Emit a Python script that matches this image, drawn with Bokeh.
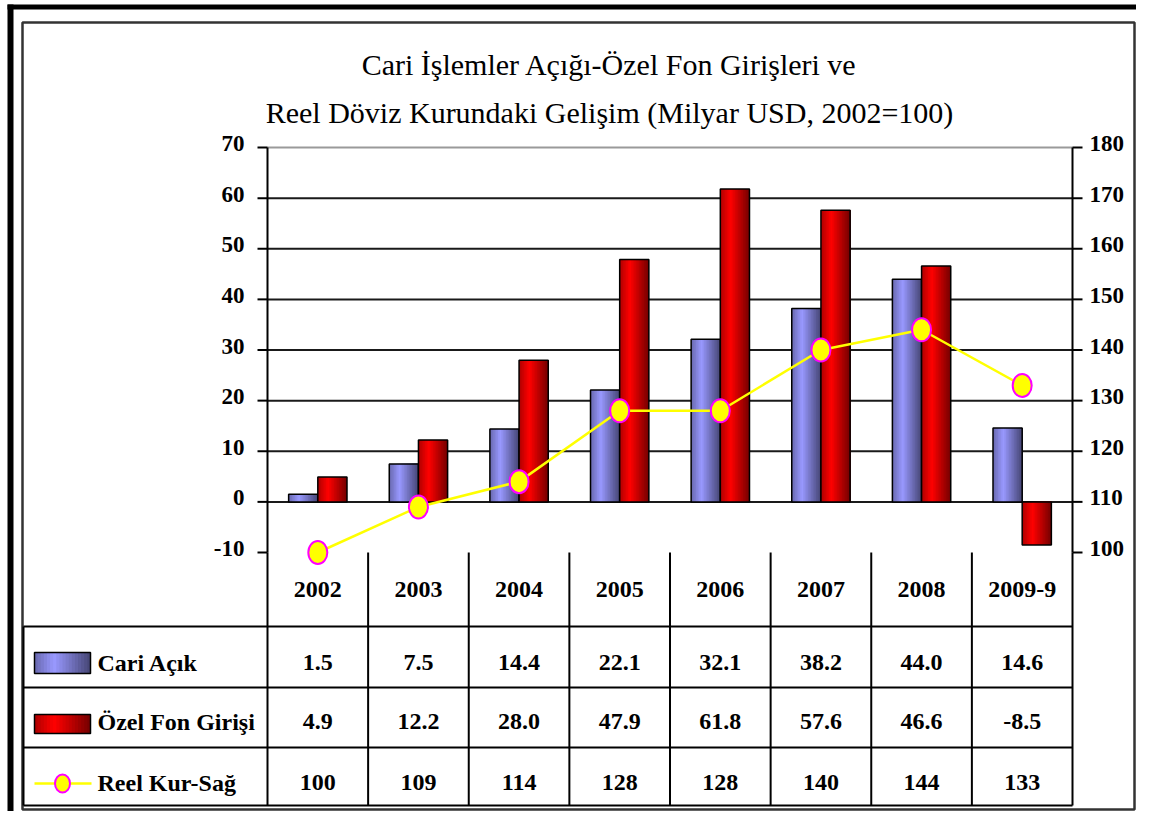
from bokeh.plotting import figure
from bokeh.models import Range1d
from bokeh.core.properties import value
from bokeh.embed import file_html
from bokeh.resources import INLINE

# ---------------- data ----------------
categories = ["2002", "2003", "2004", "2005", "2006", "2007", "2008", "2009-9"]
cari_acik = [1.5, 7.5, 14.4, 22.1, 32.1, 38.2, 44.0, 14.6]
ozel_fon = [4.9, 12.2, 28.0, 47.9, 61.8, 57.6, 46.6, -8.5]
reel_kur = [100, 109, 114, 128, 128, 140, 144, 133]
left_ticks = [-10, 0, 10, 20, 30, 40, 50, 60, 70]
right_ticks = [100, 110, 120, 130, 140, 150, 160, 170, 180]
series_names = ["Cari Açık", "Özel Fon Girişi", "Reel Kur-Sağ"]
title_lines = ["Cari İşlemler Açığı-Özel Fon Girişleri ve",
               "Reel Döviz Kurundaki Gelişim (Milyar USD, 2002=100)"]

# ---------------- layout (pixel geometry of the picture) ----------------
W, H = 1136, 811
OX, OY = 0, 0
PLOT_L, PLOT_R, PLOT_T, PLOT_B = 267, 1072, 147, 552
PPX = (PLOT_R - PLOT_L) / len(categories)
PPY = (PLOT_B - PLOT_T) / (left_ticks[-1] - left_ticks[0])
SHIFT = right_ticks[0] - left_ticks[0]


def dx(ix):
    return (ix - PLOT_L) / PPX


def dy(iy):
    return left_ticks[0] + (PLOT_B - iy) / PPY


FONT = value("Liberation Serif")

p = figure(width=W, height=H,
           x_range=Range1d(dx(OX), dx(OX + W)),
           y_range=Range1d(dy(OY + H), dy(OY)),
           output_backend="svg", toolbar_location=None,
           x_axis_type=None, y_axis_type=None, min_border=0)
p.extra_y_ranges = {"kur": Range1d(dy(OY + H) + SHIFT, dy(OY) + SHIFT)}
p.outline_line_color = None
p.background_fill_color = "white"
p.border_fill_color = "white"

# ---------------- frames ----------------
p.quad(left=dx(7), right=dx(13), top=dy(4), bottom=dy(811), fill_color="black", line_color=None)
p.quad(left=dx(7), right=dx(1136), top=dy(4), bottom=dy(9), fill_color="black", line_color=None)
p.quad(left=dx(22), right=dx(1134), top=dy(22), bottom=dy(809),
       fill_color=None, line_color="#333333", line_width=2.5)

# ---------------- title ----------------
p.text(x=[dx(609), dx(609)], y=[dy(64), dy(112)], text=title_lines,
       text_font=FONT, text_font_size="30px", text_align="center",
       text_baseline="middle", text_color="black")

# ---------------- grid, axes, ticks ----------------
n = len(categories)
for t in left_ticks[1:]:
    p.segment(x0=[0], y0=[t], x1=[n], y1=[t],
              line_color="#9a9a9a" if t == left_ticks[-1] else "#1a1a1a", line_width=2)
p.segment(x0=[dx(257)] * len(left_ticks), y0=left_ticks, x1=[0] * len(left_ticks), y1=left_ticks,
          line_color="black", line_width=2)
p.segment(x0=[n] * len(right_ticks), y0=right_ticks, x1=[dx(1082)] * len(right_ticks), y1=right_ticks,
          line_color="black", line_width=2, y_range_name="kur")
p.segment(x0=[0, n], y0=[left_ticks[0]] * 2, x1=[0, n], y1=[left_ticks[-1]] * 2,
          line_color="black", line_width=2)

p.text(x=[dx(244)] * len(left_ticks), y=left_ticks, text=[str(t) for t in left_ticks],
       text_font=FONT, text_font_style="bold", text_font_size="23px",
       text_align="right", text_baseline="middle", y_offset=-4)
p.text(x=[dx(1089)] * len(right_ticks), y=right_ticks, text=[str(t) for t in right_ticks],
       text_font=FONT, text_font_style="bold", text_font_size="23px",
       text_align="left", text_baseline="middle", y_offset=-4, y_range_name="kur")


# ---------------- bars with cylinder shading ----------------
def shade(base, t):
    if t < 0.35:
        f = 0.68 + 0.32 * t / 0.35
    else:
        f = 1.0 - 0.55 * (t - 0.35) / 0.65
    return "#%02x%02x%02x" % tuple(int(round(c * f)) for c in base)


BW = 0.29
NS = 18
BLUE = (153, 153, 255)
RED = (255, 0, 0)
series = [(cari_acik, -BW / 2, BLUE), (ozel_fon, BW / 2, RED)]
for vals, off, base in series:
    lefts = [i + 0.5 + off - BW / 2 for i in range(n)]
    rights = [i + 0.5 + off + BW / 2 for i in range(n)]
    for k in range(NS):
        t = (k + 0.5) / NS
        p.quad(left=[l + k * BW / NS for l in lefts], right=rights, top=vals, bottom=[0] * n,
               fill_color=shade(base, t), line_color=None)
    p.vbar(x=[i + 0.5 + off for i in range(n)], width=BW, top=vals, bottom=0,
           fill_color=None, line_color="black", line_width=1.5)

# ---------------- line series (right axis) ----------------
centers = [i + 0.5 for i in range(n)]
p.line(x=centers, y=reel_kur, y_range_name="kur", line_color="#ffff00", line_width=2.5)
p.ellipse(x=centers, y=reel_kur, width=19, height=23, width_units="screen", height_units="screen",
          y_range_name="kur", fill_color="#ffff00", line_color="#ff00ff", line_width=2)

# ---------------- data table ----------------
col_x = list(range(n + 1))
p.segment(x0=col_x, y0=[dy(552)] * len(col_x), x1=col_x, y1=[dy(805)] * len(col_x),
          line_color="black", line_width=2)
row_y = [dy(626), dy(687), dy(747), dy(805)]
p.segment(x0=[dx(23)] * 4, y0=row_y, x1=[n] * 4, y1=row_y, line_color="black", line_width=2)
p.segment(x0=[dx(23)], y0=[dy(626)], x1=[dx(23)], y1=[dy(805)], line_color="black", line_width=2)

p.text(x=centers, y=[dy(589)] * n, text=categories, text_font=FONT, text_font_style="bold",
       text_font_size="24px", text_align="center", text_baseline="middle")

row_centers = [dy(662), dy(721), dy(782)]
row_texts = [["%.1f" % v for v in cari_acik], ["%.1f" % v for v in ozel_fon], [str(v) for v in reel_kur]]
for rc, txts in zip(row_centers, row_texts):
    p.text(x=centers, y=[rc] * n, text=txts, text_font=FONT, text_font_style="bold",
           text_font_size="24px", text_align="center", text_baseline="middle")

# legend keys
p.text(x=[dx(97)] * 3, y=row_centers, text=series_names, text_font=FONT, text_font_style="bold",
       text_font_size="24px", text_align="left", text_baseline="middle")
key_boxes = [(dy(652), dy(673), BLUE), (dy(714), dy(733), RED)]
for top, bot, base in key_boxes:
    kl, kr = dx(34), dx(90)
    kw = (kr - kl) / NS
    for k in range(NS):
        t = (k + 0.5) / NS
        p.quad(left=[kl + k * kw], right=[kr], top=[top], bottom=[bot],
               fill_color=shade(base, t), line_color=None)
    p.quad(left=[kl], right=[kr], top=[top], bottom=[bot], fill_color=None,
           line_color="black", line_width=1.5)
p.segment(x0=[dx(34)], y0=[dy(783)], x1=[dx(91)], y1=[dy(783)], line_color="#ffff00", line_width=2.5)
p.ellipse(x=[dx(62)], y=[dy(783)], width=15, height=18, width_units="screen", height_units="screen",
          fill_color="#ffff00", line_color="#ff00ff", line_width=2)

open("out.html", "w").write(file_html(p, INLINE))
